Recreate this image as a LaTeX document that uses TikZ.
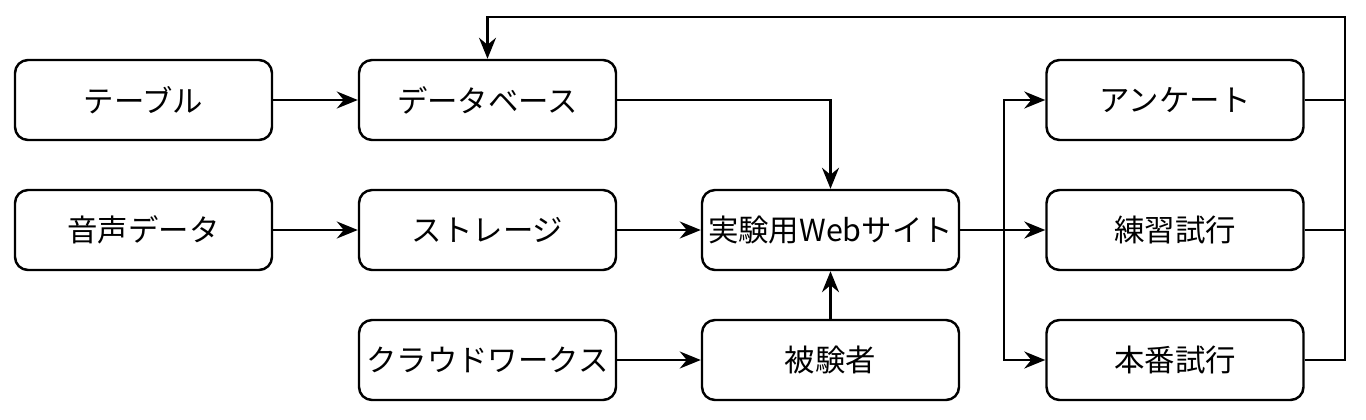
\documentclass[tikz,border=0pt]{standalone}
\usepackage{fontspec}
\setmainfont{Noto Sans CJK JP}
\usetikzlibrary{arrows.meta}
\tikzset{
  blk/.style={draw,rounded corners=0.26cm,line width=1.4pt,minimum width=5.14cm,minimum height=1.6cm,inner sep=0pt,font=\fontsize{17.3}{21}\selectfont},
  flow/.style={line width=1.4pt,-{Stealth[length=4.2mm,width=3.4mm,inset=1.4mm]}},
  link/.style={line width=1.4pt}
}
\begin{document}
\begin{tikzpicture}
            \useasboundingbox (0,0) rectangle (27.32,-8.4);

            \node[blk] (table) at (2.87,-2.0) {テーブル};
            \node[blk] (db) at (9.75,-2.0) {データベース};
            \node[blk] (audio) at (2.87,-4.6) {音声データ};
            \node[blk] (storage) at (9.75,-4.6) {ストレージ};
            \node[blk] (crowd) at (9.75,-7.2) {クラウドワークス};
            \node[blk] (web) at (16.61,-4.6) {実験用Webサイト};
            \node[blk] (subject) at (16.61,-7.2) {被験者};
            \node[blk] (survey) at (23.5,-2.0) {アンケート};
            \node[blk] (practice) at (23.5,-4.6) {練習試行};
            \node[blk] (mainrun) at (23.5,-7.2) {本番試行};

            \coordinate (split) at (20.08,-4.6);
            \coordinate (back) at (26.9,-0.34);

            \draw[flow] (table) -- (db);
            \draw[flow] (db.east) -| (web.north);
            \draw[flow] (audio) -- (storage);
            \draw[flow] (storage) -- (web);
            \draw[flow] (crowd) -- (subject);
            \draw[flow] (subject) -- (web);

            \draw[link] (web.east) -- (split);
            \draw[flow] (split) |- (survey.west);
            \draw[flow] (split) -- (practice.west);
            \draw[flow] (split) |- (mainrun.west);

            \draw[link] (survey.east) -- (survey.east -| back);
            \draw[link] (practice.east) -- (practice.east -| back);
            \draw[flow] (mainrun.east) -| (back) -| (db.north);
        \end{tikzpicture}
\end{document}
